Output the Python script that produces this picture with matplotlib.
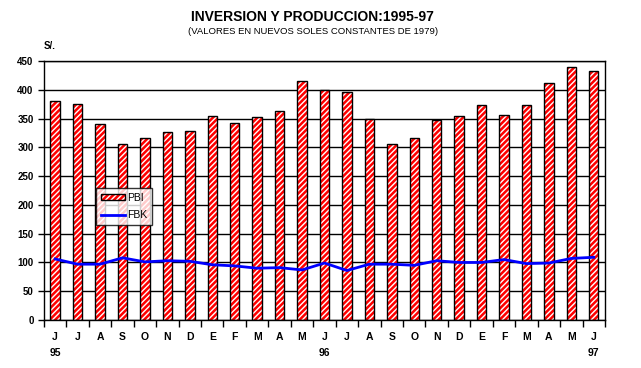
import matplotlib
matplotlib.use('Agg')
import matplotlib.pyplot as plt
import matplotlib.patches as mpatches
from matplotlib.lines import Line2D
import numpy as np

plt.rcParams['font.family'] = ['Liberation Sans', 'DejaVu Sans']
plt.rcParams['hatch.linewidth'] = 1.0

# months Jun 95 .. Jun 97
months = ['J', 'J', 'A', 'S', 'O', 'N', 'D', 'E', 'F', 'M', 'A', 'M',
          'J', 'J', 'A', 'S', 'O', 'N', 'D', 'E', 'F', 'M', 'A', 'M', 'J']
years = {0: '95', 12: '96', 24: '97'}
pbi = [380, 375, 341, 305, 317, 327, 329, 355, 343, 352, 364, 415,
       400, 396, 349, 306, 317, 347, 355, 374, 357, 373, 412, 440, 432]
fbk = [106, 97, 97, 108, 101, 103, 102, 96, 94, 90, 91, 87,
       99, 86, 97, 97, 95, 103, 100, 100, 105, 98, 99, 107, 109]

fig = plt.figure(figsize=(6.41, 3.68), dpi=100)
ax = fig.add_axes([0.0686, 0.1304, 0.8752, 0.7038])

x = np.arange(len(months))
# red bars with white hatch, then black outline on top
ax.bar(x, pbi, width=0.42, color='#ff0000', edgecolor='white', hatch='//////',
       linewidth=0, zorder=2)
ax.bar(x, pbi, width=0.42, fill=False, edgecolor='black', linewidth=1.0, zorder=3)
ax.plot(x, fbk, color='#0000ff', linewidth=2, zorder=4)

ax.set_xlim(-0.5, 24.5)
ax.set_ylim(0, 450)
ax.set_yticks(np.arange(0, 451, 50))
ax.yaxis.grid(True, color='black', linewidth=1.0)
ax.set_axisbelow(True)
for s in ax.spines.values():
    s.set_color('black')
    s.set_linewidth(1.0)

ax.set_xticks(np.arange(-0.5, 25, 1))
ax.set_xticklabels([])
ax.tick_params(axis='x', length=5, width=1, direction='out')
ax.tick_params(axis='y', length=4, width=1, direction='out', labelsize=7)
for lab in ax.get_yticklabels():
    lab.set_fontweight('bold')

for i, m in enumerate(months):
    ax.text(i, -29, m, ha='center', va='center', fontsize=7.5, fontweight='bold')
for i, y in years.items():
    ax.text(i, -57, y, ha='center', va='center', fontsize=7.5, fontweight='bold')

ax.text(0.0, 1.04, 'S/.', transform=ax.transAxes, fontsize=7, fontweight='bold',
        ha='left', va='bottom')

fig.text(0.488, 0.953, 'INVERSION Y PRODUCCION:1995-97', ha='center', va='center',
         fontsize=10, fontweight='bold')
fig.text(0.488, 0.915, '(VALORES EN NUEVOS SOLES CONSTANTES DE 1979)', ha='center',
         va='center', fontsize=6.8)

h_bar = (mpatches.Patch(facecolor='#ff0000', edgecolor='white', hatch='//////', linewidth=0),
         mpatches.Patch(fill=False, edgecolor='black', linewidth=1.0))
h_line = Line2D([], [], color='#0000ff', linewidth=2)
leg = ax.legend([h_bar, h_line], ['PBI', 'FBK'], loc='upper left',
                bbox_to_anchor=(0.093, 0.51), fontsize=7.5, frameon=True,
                fancybox=False, borderpad=0.45, handlelength=2.3, handleheight=0.6,
                labelspacing=0.75, handletextpad=0.2, borderaxespad=0)
leg.get_frame().set_edgecolor('black')
leg.get_frame().set_linewidth(1.0)
leg.set_zorder(5)

fig.savefig('out.png', dpi=100)
